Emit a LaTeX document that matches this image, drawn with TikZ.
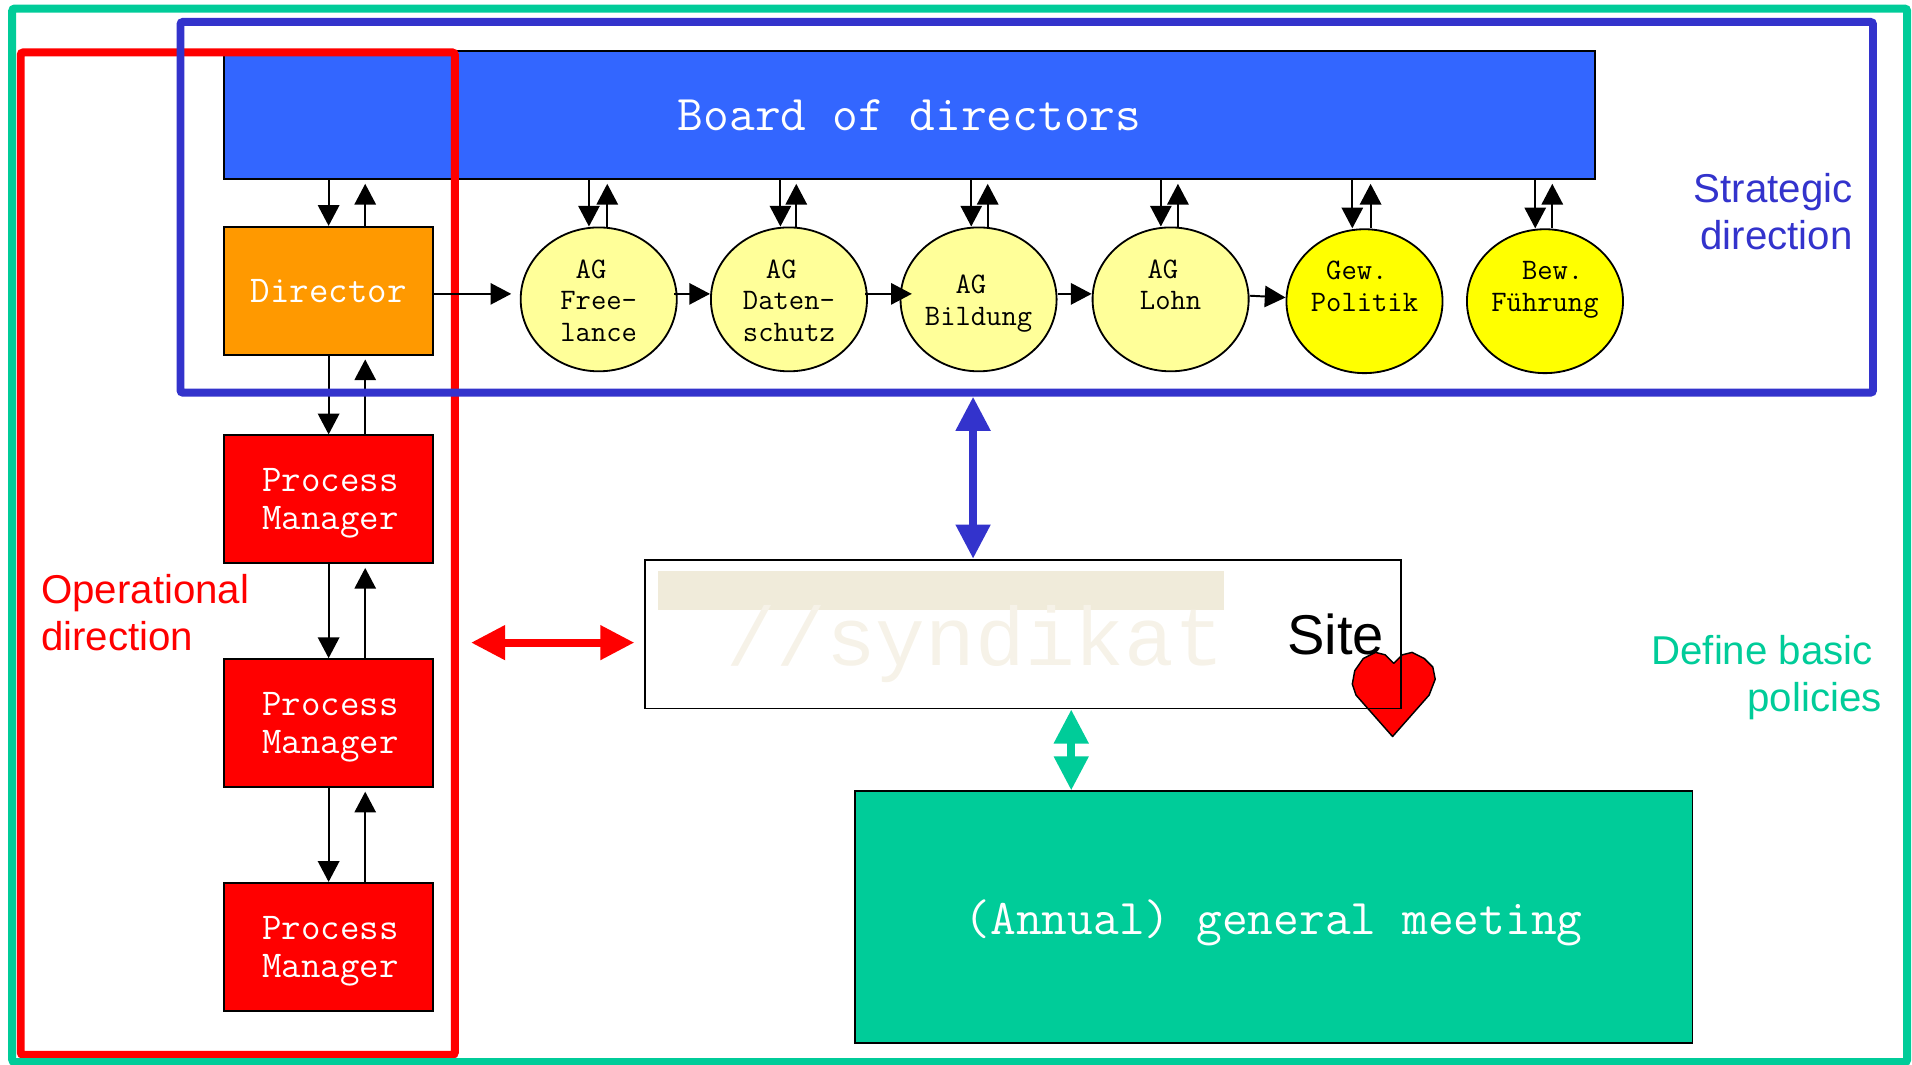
\documentclass[tikz,border=0pt]{standalone}
\usepackage{fontspec}
\setmainfont{Liberation Sans}
\newfontfamily\logofont{Liberation Mono}
\usetikzlibrary{arrows.meta, shapes.geometric}
\definecolor{stratblue}{HTML}{3333CC}
\definecolor{basegreen}{HTML}{00CC99}
\definecolor{boardblue}{HTML}{3366FF}
\definecolor{dirorange}{HTML}{FF9900}
\definecolor{agyellow}{HTML}{FFFF99}
\definecolor{agbright}{HTML}{FFFF00}
\definecolor{logotan}{HTML}{F0EBDA}
\definecolor{logotext}{HTML}{F6F2E8}
\tikzset{
	frame/.style={draw, line width=6.5pt, rounded corners=2pt, inner sep=0pt},
	box/.style={draw, line width=1.5pt, inner sep=0pt, text=white, align=center, font=\ttfamily\fontsize{31}{31}\selectfont},
	bigbox/.style={box, font=\ttfamily\fontsize{41}{41}\selectfont},
	pm/.style={box, fill=red, minimum width=171pt, minimum height=105pt, text depth=0pt},
	ag/.style={draw, ellipse, line width=1.5pt, inner sep=0pt, fill=agyellow, minimum width=128pt, minimum height=118pt, align=center, text height=71pt, text depth=2pt, font=\ttfamily\fontsize{24.4}{26}\selectfont},
	caption/.style={align=right, inner sep=0pt, font=\fontsize{33}{39}\selectfont},
	bigarrow/.style={<->, line width=6.5pt, >={Triangle[length=28pt,width=27pt]}}
}
\begin{document}
\begin{tikzpicture}[x=1pt, y=-1pt, ->, >={Triangle[length=17pt,width=17.5pt]}, line width=1.6pt]
	\useasboundingbox (0,0) rectangle (1568,873);
	% boxes
	\node (board) [bigbox, fill=boardblue, minimum width=1124pt, minimum height=105pt] at (746,94.5) {Board of directors};
	\node (operational) [frame, red, minimum width=356pt, minimum height=822pt] at (195,454) {};
	\node (director) [box, fill=dirorange, minimum width=171pt, minimum height=105pt] at (269.5,238.5) {Director};
	\node (pm1) [pm, below of=director, node distance=171pt] {\hspace*{3pt}Process\\\hspace*{3pt}Manager};
	\node (pm2) [pm, below of=pm1, node distance=183.5pt] {\hspace*{3pt}Process\\\hspace*{3pt}Manager};
	\node (pm3) [pm, below of=pm2, node distance=183.5pt] {\hspace*{3pt}Process\\\hspace*{3pt}Manager};
	\node (agm) [bigbox, fill=basegreen, text depth=0pt, minimum width=687pt, minimum height=206pt] at (1044.5,752) {(Annual) general meeting};
	% working groups
	\node (free) [ag] at (491,245.5) {AG\phantom{x}\\Free-\\lance};
	\node (daten) [ag] at (647,245.5) {AG\phantom{x}\\Daten-\\schutz};
	\node (bildung) [ag, text height=45pt] at (802.5,245.5) {AG\phantom{x}\\Bildung};
	\node (lohn) [ag] at (960,245.5) {AG\phantom{x}\\Lohn\\\phantom{x}};
	\node (politik) [ag, fill=agbright] at (1119,247) {Gew.\phantom{x}\\Politik\\\phantom{x}};
	\node (fuehrung) [ag, fill=agbright] at (1267,247) {\phantom{x}Bew.\\Führung\\\phantom{x}};
	% site with logo and heart
	\fill [logotan] (540,468) rectangle (1004,500);
	\node [text=logotext, inner sep=0pt, font=\logofont\fontsize{68}{68}\selectfont] at (800,528) {//syndikat};
	\draw [-, fill=red, line width=1.2pt, line join=round] (1143,544) -- (1136,537) -- (1128,535) -- (1118,540) -- (1111,550) -- (1109,561) -- (1112,570) -- (1142,604) -- (1172,570) -- (1177,557) -- (1175,547) -- (1168,540) -- (1158,535) -- (1150,537) -- cycle;
	\node (site) [draw, line width=1.5pt, minimum width=620pt, minimum height=122pt, inner sep=0pt] at (839,520) {};
	\node [inner sep=0pt, font=\fontsize{46}{46}\selectfont] at (1095.5,520) {Site};
	% arrows
	\path
	(board.south -| director) edge (director.north)
	([xshift=30pt]director.north) edge [shorten >=3pt] ([xshift=30pt]director.north |- board.south)
	(director.south) edge (pm1.north)
	([xshift=30pt]pm1.north) edge [shorten >=3pt] ([xshift=30pt]director.south)
	(pm1.south) edge (pm2.north)
	([xshift=30pt]pm2.north) edge [shorten >=3pt] ([xshift=30pt]pm1.south)
	(pm2.south) edge (pm3.north)
	([xshift=30pt]pm3.north) edge [shorten >=3pt] ([xshift=30pt]pm2.south)
	([yshift=-2.5pt]director.east) edge [shorten >=7pt] ([yshift=4.5pt]free.west)
	([yshift=4.5pt]free.east) edge [shorten <=-3pt] ([yshift=4.5pt]daten.west)
	([yshift=4.5pt]daten.east) edge [shorten >=-10pt, shorten <=-2pt] ([yshift=4.5pt]bildung.west)
	([yshift=4.5pt]bildung.east) edge ([yshift=4.5pt]lohn.west)
	([yshift=3pt]lohn.east) edge ([yshift=3pt]politik.west);
	\foreach \ag/\dn/\up in {free/-8/7, daten/-7/6, bildung/-6/7.5, lohn/-8/6, politik/-10/5, fuehrung/-8/6} {
		\path
		([xshift=\dn pt]\ag.north |- board.south) edge ([xshift=\dn pt]\ag.north)
		([xshift=\up pt]\ag.north) edge [shorten >=3pt] ([xshift=\up pt]\ag.north |- board.south);
	}
	% frames
	\node (strategic) [frame, stratblue, minimum width=1388pt, minimum height=304pt] at (842,170) {};
	\node (basic) [frame, basegreen, minimum width=1554pt, minimum height=864pt] at (787,439) {};
	% big arrows
	\path [bigarrow, stratblue]
	([xshift=-41pt]site.north) edge ([xshift=-41pt]site.north |- strategic.south);
	\path [bigarrow, red]
	([yshift=-7pt, xshift=-8pt]site.west) edge [shorten >=10pt] ([yshift=-7pt]site.west -| operational.east);
	\path [bigarrow, basegreen]
	([xshift=39.5pt]site.south) edge ([xshift=39.5pt]site.south |- agm.north);
	% captions
	\node [caption, text=stratblue, anchor=north east] at (1520,141) {Strategic\\direction};
	\node [caption, text=red, align=left, anchor=north west] at (33,470) {Operational\\direction};
	\node [caption, text=basegreen, anchor=north east] at (1544,520) {Define basic\phantom{i}\\policies};
\end{tikzpicture}
\end{document}
